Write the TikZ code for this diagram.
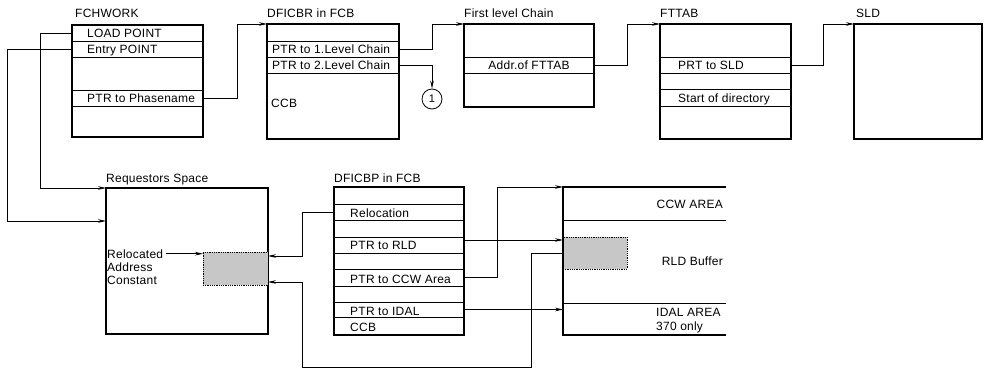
\documentclass[tikz,border=0pt]{standalone}
\usepackage{fontspec}
\setmainfont{Liberation Sans}[LetterSpace=2]
\usetikzlibrary{arrows.meta}
\tikzset{
  boxo/.style={draw, line width=1.4pt, anchor=north west, inner sep=0pt, outer sep=0pt},
  rowr/.style={draw, line width=0.7pt, anchor=north west, inner sep=0pt, outer sep=0pt},
  txt/.style={anchor=base west, inner sep=0pt, font=\fontsize{12}{13}\selectfont},
  txte/.style={anchor=base east, inner sep=0pt, font=\fontsize{12}{13}\selectfont},
  conn/.style={line width=0.8pt},
  arr/.style={-{Stealth[length=8pt,width=3.6pt]}},
  shadebox/.style={fill=black!22, draw, densely dotted, line width=0.8pt, anchor=north west, inner sep=0pt, outer sep=0pt},
  bline/.style={line width=1.4pt},
  rline/.style={line width=0.7pt}
}
\begin{document}
\begin{tikzpicture}[x=1pt,y=-1pt]
\useasboundingbox (0,0) rectangle (984,369);

% ---------- FCHWORK ----------
\node[txt] (fchT) at (75,17.5) {FCHWORK};
\node[rowr, minimum width=131pt, minimum height=16pt] (lp) at (72,25) {};
\node[rowr, minimum width=131pt, minimum height=16pt] (ep) at (72,41) {};
\node[rowr, minimum width=131pt, minimum height=16pt] (pp) at (72,90) {};
\node[boxo, minimum width=131pt, minimum height=112pt] (fch) at (72,25) {};
\node[txt] (lpt) at (87,37.5) {LOAD POINT};
\node[txt] (ept) at (87,53.5) {Entry POINT};
\node[txt] (ppt) at (87,102.5) {PTR to Phasename};

% ---------- DFICBR ----------
\node[txt] (dfbT) at (267,17.5) {DFICBR in FCB};
\node[rowr, minimum width=132pt, minimum height=16pt] (r1) at (267,41) {};
\node[rowr, minimum width=132pt, minimum height=16pt] (r2) at (267,57) {};
\node[boxo, minimum width=132pt, minimum height=115pt] (dfb) at (267,24) {};
\node[txt] (r1t) at (272,53.5) {PTR to 1.Level Chain};
\node[txt] (r2t) at (272,69.5) {PTR to 2.Level Chain};
\node[txt] (ccbt) at (271,107.5) {CCB};
\node[draw, circle, minimum size=20pt, inner sep=0pt, line width=0.8pt, font=\fontsize{11}{13}\selectfont] (c1) at (432,99) {1};

% ---------- First level Chain ----------
\node[txt] (flcT) at (464,17.5) {First level Chain};
\node[rowr, minimum width=130pt, minimum height=16pt] (ad) at (464,57) {};
\node[boxo, minimum width=130pt, minimum height=83pt] (flc) at (464,24) {};
\node[anchor=base, inner sep=0pt, font=\fontsize{12}{13}\selectfont] (adt) at (529,69.5) {Addr.of FTTAB};

% ---------- FTTAB ----------
\node[txt] (fttT) at (660,17.5) {FTTAB};
\node[rowr, minimum width=131pt, minimum height=16pt] (ps) at (660,57) {};
\node[rowr, minimum width=131pt, minimum height=17pt] (sd) at (660,89) {};
\node[boxo, minimum width=131pt, minimum height=115pt] (ftt) at (660,24) {};
\node[txt] (pst) at (678,69.5) {PRT to SLD};
\node[txt] (sdt) at (678,102) {Start of directory};

% ---------- SLD ----------
\node[txt] (sldT) at (856,17.5) {SLD};
\node[boxo, minimum width=128pt, minimum height=115pt] (sld) at (854,24) {};

% ---------- Requestors Space ----------
\node[txt] (rsT) at (106,182) {Requestors Space};
\node[boxo, minimum width=162pt, minimum height=146pt] (rs) at (106,188) {};
\node[shadebox, minimum width=65pt, minimum height=33pt] (sh1) at (203,252) {};
\node[txt] (relt) at (107,258) {Relocated};
\node[txt] (addt) at (107,271) {Address};
\node[txt] (cont) at (107,284) {Constant};

% ---------- DFICBP ----------
\node[txt] (dpT) at (334,182) {DFICBP in FCB};
\node[rowr, minimum width=130pt, minimum height=16pt] (rel) at (334,204) {};
\node[rowr, minimum width=130pt, minimum height=16pt] (prl) at (334,237) {};
\node[rowr, minimum width=130pt, minimum height=17pt] (pcc) at (334,269) {};
\node[rowr, minimum width=130pt, minimum height=15pt] (pid) at (334,302) {};
\node[rowr, minimum width=130pt, minimum height=18pt] (ccbr) at (334,317) {};
\node[boxo, minimum width=130pt, minimum height=148pt] (dp) at (334,187) {};
\node[txt] (relT) at (350,217) {Relocation};
\node[txt] (prlt) at (350,249.5) {PTR to RLD};
\node[txt] (pcct) at (350,283) {PTR to CCW Area};
\node[txt] (pidt) at (350,315) {PTR to IDAL};
\node[txt] (ccb2t) at (350,331) {CCB};

% ---------- right area ----------
\node[anchor=north west, inner sep=0pt, outer sep=0pt, minimum width=163pt, minimum height=148pt] (ra) at (563,187) {};
\node[shadebox, minimum width=64pt, minimum height=32pt] (sh2) at (563,237) {};
\draw[bline] (ra.north east) -- (ra.north west) -- (ra.south west) -- (ra.south east);
\draw[rline] ([yshift=-33pt]ra.north west) -- ([yshift=-33pt]ra.north east);
\draw[rline] ([yshift=32pt]ra.south west) -- ([yshift=32pt]ra.south east);
\node[txte] (ccwt) at (723,208) {CCW AREA};
\node[txte] (rldt) at (723,265) {RLD Buffer};
\node[txt] (idalt) at (656,316) {IDAL AREA};
\node[txt] (onlyt) at (656,330) {370 only};

% ---------- connectors ----------
\coordinate (k1) at (531,367);
\coordinate (k2) at (302,367);
\coordinate (q1) at ([yshift=-3pt]sh2.north west);

\draw[conn,arr] (pp.east) -- ++(34,0) |- (dfb.north west);
\draw[conn,arr] (r1.east) -- ++(33,0) |- (flc.north west);
\draw[conn,arr] (r2.east) -| (c1.north);
\draw[conn,arr] (ad.east) -- ++(33,0) |- (ftt.north west);
\draw[conn,arr] (ps.east) -- ++(32,0) |- (sld.north west);
\draw[conn,arr] (lp.west) -- ++(-32,0) |- (rs.north west);
\draw[conn,arr] (ep.west) -- ++(-65,0) |- ([yshift=-33pt]rs.north west);
\draw[conn,arr,shorten <=3pt] (relt.east) -- (relt.east -| sh1.west);
\draw[conn,arr] (rel.west) -- ++(-32,0) |- ([yshift=-4pt]sh1.north east);
\draw[conn,arr] (sh2.west) -| (k1) -- (k2) |- ([yshift=3pt]sh1.south east);
\draw[conn,arr] (q1 -| prl.east) -- (q1);
\draw[conn,arr] (pcc.east) -- ++(33,0) |- (ra.north west);
\draw[conn,arr] (pid.east) -- (pid.east -| ra.west);
\end{tikzpicture}
\end{document}
